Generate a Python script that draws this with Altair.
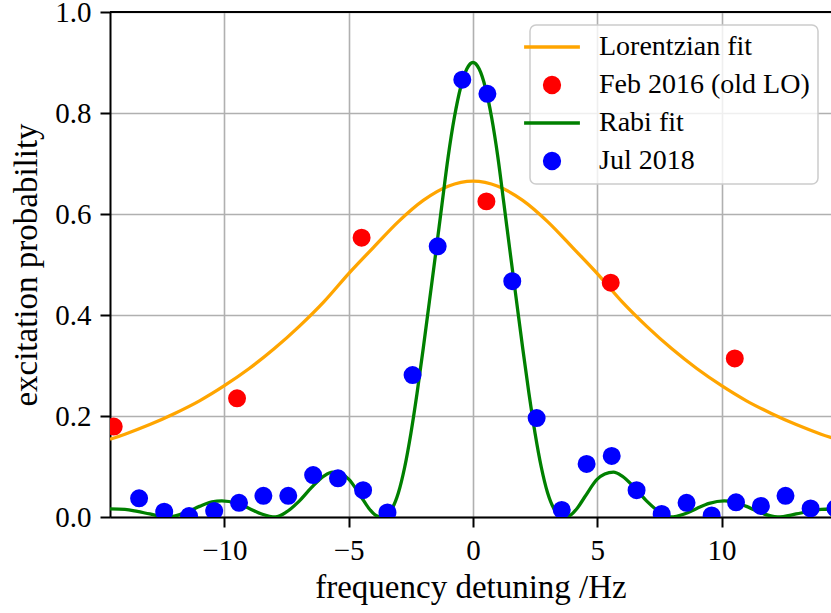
import altair as alt
import pandas as pd

# Series names and colours (legend order)
series_names = ["Lorentzian fit", "Feb 2016 (old LO)", "Rabi fit", "Jul 2018"]
series_colors = ["#ffa500", "#ff0000", "#008000", "#0000ff"]

# Lorentzian fit curve (Feb 2016, old LO)
lor_x = [-14.6, -14, -13, -12, -11, -10, -9, -8, -7, -6, -5, -4, -3, -2, -1, 0,
         1, 2, 3, 4, 5, 6, 7, 8, 9, 10, 11, 12, 13, 14, 14.6]
lor_y = [0.154, 0.164, 0.183, 0.205, 0.230, 0.260, 0.294, 0.333, 0.377, 0.426,
         0.482, 0.534, 0.585, 0.627, 0.655, 0.665, 0.655, 0.627, 0.585, 0.534,
         0.482, 0.426, 0.377, 0.333, 0.294, 0.260, 0.230, 0.205, 0.183, 0.164, 0.154]

# Rabi fit curve (Jul 2018)
rabi_x = [-14.6, -14.0, -13.5, -13.0, -12.25, -11.5, -11.0, -10.5, -10.1, -9.5,
          -9.0, -8.5, -7.95, -7.5, -7.0, -6.5, -6.0, -5.65, -5.3, -5.0, -4.5,
          -4.2, -3.9, -3.7, -3.5, -3.25, -3.0, -2.75, -2.5, -2.25, -2.0, -1.75,
          -1.5, -1.25, -1.0, -0.75, -0.5, -0.25, 0.0, 0.25, 0.5, 0.75, 1.0,
          1.25, 1.5, 1.75, 2.0, 2.25, 2.5, 2.75, 3.0, 3.25, 3.5, 3.7, 3.9, 4.2,
          4.5, 5.0, 5.3, 5.65, 6.0, 6.5, 7.0, 7.5, 7.95, 8.5, 9.0, 9.5, 10.1,
          10.5, 11.0, 11.5, 12.25, 13.0, 13.5, 14.0, 14.6]
rabi_y = [0.016, 0.015, 0.011, 0.006, 0.0, 0.010, 0.021, 0.030, 0.032, 0.027,
          0.017, 0.006, 0.0, 0.010, 0.031, 0.058, 0.081, 0.089, 0.085, 0.075,
          0.040, 0.018, 0.003, 0.0, 0.003, 0.017, 0.048, 0.098, 0.165, 0.245,
          0.334, 0.428, 0.522, 0.618, 0.713, 0.791, 0.850, 0.887, 0.900, 0.887,
          0.850, 0.791, 0.713, 0.618, 0.522, 0.428, 0.334, 0.245, 0.165, 0.098,
          0.048, 0.017, 0.003, 0.0, 0.003, 0.018, 0.040, 0.075, 0.085, 0.089,
          0.081, 0.058, 0.031, 0.010, 0.0, 0.006, 0.017, 0.027, 0.032, 0.030,
          0.021, 0.010, 0.0, 0.006, 0.011, 0.015, 0.016]

# Measurements
feb_x = [-14.45, -9.49, -4.48, 0.54, 5.54, 10.53]
feb_y = [0.179, 0.235, 0.553, 0.625, 0.464, 0.314]

jul_x = [-13.43, -12.42, -11.42, -10.41, -9.41, -8.43, -7.43, -6.43, -5.43,
         -4.42, -3.44, -2.43, -1.42, -0.43, 0.58, 1.58, 2.56, 3.57, 4.57, 5.58,
         6.58, 7.59, 8.59, 9.6, 10.58, 11.58, 12.57, 13.58, 14.58]
jul_y = [0.037, 0.0105, 0.002, 0.012, 0.028, 0.042, 0.042, 0.083, 0.0765,
         0.053, 0.009, 0.281, 0.536, 0.866, 0.838, 0.467, 0.196, 0.014, 0.105,
         0.121, 0.053, 0.006, 0.028, 0.003, 0.029, 0.022, 0.042, 0.017, 0.017]

x_ticks = [-10, -5, 0, 5, 10]
y_ticks = [0.0, 0.2, 0.4, 0.6, 0.8, 1.0]

lor_df = pd.DataFrame({"x": lor_x, "y": lor_y, "series": series_names[0]})
feb_df = pd.DataFrame({"x": feb_x, "y": feb_y, "series": series_names[1]})
rabi_df = pd.DataFrame({"x": rabi_x, "y": rabi_y, "series": series_names[2]})
jul_df = pd.DataFrame({"x": jul_x, "y": jul_y, "series": series_names[3]})

SERIF = "Liberation Serif"

# symbol paths in the unit square: a long dash for fitted curves, a dot for data
LINE_PATH = "M-3.1,0L3.1,0"
DOT_PATH = "M-0.833,0A0.833,0.833,0,1,1,0.833,0A0.833,0.833,0,1,1,-0.833,0Z"
series_shapes = [LINE_PATH, DOT_PATH, LINE_PATH, DOT_PATH]

legend = alt.Legend(
    title=None,
    orient="none",
    legendX=420,
    legendY=13,
    labelFont=SERIF,
    labelFontSize=28,
    labelColor="black",
    labelLimit=0,
    labelOffset=33,
    rowPadding=9,
    padding=8,
    symbolSize=324,
    symbolStrokeWidth=3.3,
    symbolOpacity=1,
    fillColor="rgba(255,255,255,0.8)",
    strokeColor="#cccccc",
    cornerRadius=6,
)

color = alt.Color(
    "series:N",
    scale=alt.Scale(domain=series_names, range=series_colors),
    legend=legend,
)
stroke = alt.Stroke(
    "series:N",
    scale=alt.Scale(domain=series_names, range=series_colors),
    legend=legend,
)
shape = alt.Shape(
    "series:N",
    scale=alt.Scale(domain=series_names, range=series_shapes),
    legend=legend,
)

x_enc = alt.X(
    "x:Q",
    scale=alt.Scale(domain=[-14.6, 14.4], nice=False, zero=False),
    axis=alt.Axis(
        values=x_ticks,
        title="frequency detuning /Hz",
        labelExpr="replace(datum.label, '-', '\u2212')",
        labelPadding=9,
        titlePadding=6,
    ),
)
y_enc = alt.Y(
    "y:Q",
    scale=alt.Scale(domain=[0, 1], nice=False),
    axis=alt.Axis(
        values=y_ticks,
        format=".1f",
        title="excitation probability",
        labelPadding=9,
        titlePadding=11,
    ),
)


def curve(df):
    return alt.Chart(df).mark_line(
        strokeWidth=3.3, interpolate="monotone", clip=True
    ).encode(x=x_enc, y=y_enc, color=color)


def dots(df):
    return alt.Chart(df).mark_point(
        filled=True, size=324, strokeWidth=3, opacity=1, clip=True
    ).encode(x=x_enc, y=y_enc, color=color, stroke=stroke, shape=shape)


# top spine of the axes frame
top = alt.Chart(pd.DataFrame({"y": [1.0]})).mark_rule(color="black", strokeWidth=2).encode(
    y=alt.Y("y:Q", scale=alt.Scale(domain=[0, 1], nice=False)))

chart = (
    alt.layer(curve(lor_df), dots(feb_df), curve(rabi_df), dots(jul_df), top)
    .properties(
        width=721,
        height=505,
        autosize=alt.AutoSizeParams(type="none"),
        padding={"left": 110, "top": 12, "right": 0, "bottom": 96},
        background="white",
    )
    .configure_view(strokeWidth=0)
    .configure_axis(
        grid=True,
        gridColor="#b0b0b0",
        gridWidth=1.6,
        domain=True,
        domainColor="black",
        domainWidth=2,
        tickColor="black",
        tickWidth=2,
        tickSize=10,
        labelFont=SERIF,
        labelFontSize=29,
        labelColor="black",
        titleFont=SERIF,
        titleFontSize=33,
        titleFontWeight="normal",
        titleColor="black",
    )
    .configure_legend(strokeWidth=1.5)
)

chart.save("out.html", embed_options={"renderer": "svg", "actions": False})
